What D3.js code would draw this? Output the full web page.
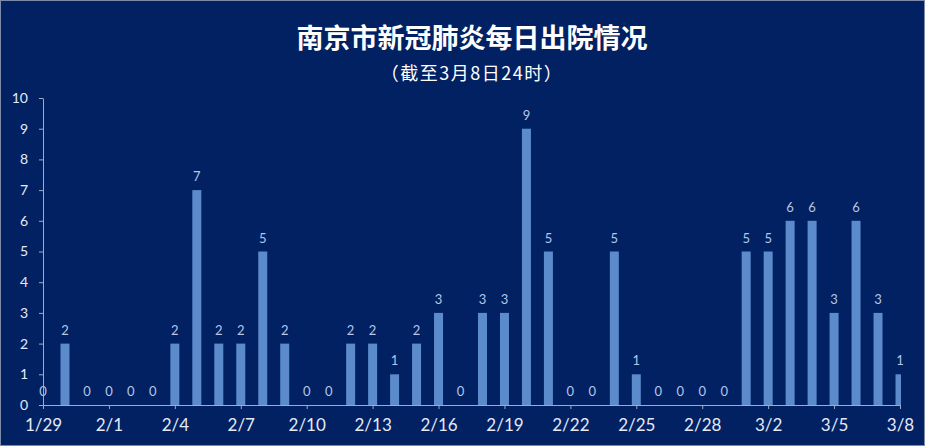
<!DOCTYPE html>
<html>
<head>
<meta charset="utf-8">
<script src="https://cdn.jsdelivr.net/npm/d3@7"></script>
<style>
  html, body { margin: 0; padding: 0; background: #022163; }
  svg { display: block; }
</style>
</head>
<body>
<script>
var dates = ["1/29","1/30","1/31","2/1","2/2","2/3","2/4","2/5","2/6","2/7","2/8","2/9","2/10",
             "2/11","2/12","2/13","2/14","2/15","2/16","2/17","2/18","2/19","2/20","2/21","2/22",
             "2/23","2/24","2/25","2/26","2/27","2/28","2/29","3/1","3/2","3/3","3/4","3/5",
             "3/6","3/7","3/8"];
var discharged = [0,2,0,0,0,0,2,7,2,2,5,2,0,
                  0,2,2,1,2,3,0,3,3,9,5,0,
                  0,5,1,0,0,0,0,5,5,6,6,3,
                  6,3,1];
var yTicks = [0,1,2,3,4,5,6,7,8,9,10];
var xTickLabels = ["1/29","2/1","2/4","2/7","2/10","2/13","2/16","2/19","2/22","2/25","2/28","3/2","3/5","3/8"];

var W = 925, H = 446;
var margin = {top: 98, right: 25, bottom: 41, left: 43}
  , width = W - margin.left - margin.right
  , height = H - margin.top - margin.bottom;

var xScale = d3.scalePoint().domain(dates).range([0, width]),
    yScale = d3.scaleLinear().domain([0, 10]).range([height, 0]);

var svg = d3.select("body").append("svg")
    .attr("width", W)
    .attr("height", H);

svg.append("rect")
    .attr("x", 0.5).attr("y", 0.5)
    .attr("width", W - 1).attr("height", H - 1)
    .attr("fill", "#022163")
    .attr("stroke", "#7d8aa8")
    .attr("stroke-width", 1);

svg.append("text")
    .attr("x", 472)
    .attr("y", 48)
    .attr("text-anchor", "middle")
    .attr("font-family", "Noto Sans CJK SC")
    .attr("font-weight", "bold")
    .attr("font-size", "27px")
    .attr("fill", "#ffffff")
    .text("南京市新冠肺炎每日出院情况");

svg.append("text")
    .attr("x", 472)
    .attr("y", 80)
    .attr("text-anchor", "middle")
    .attr("font-family", "Noto Sans CJK SC")
    .attr("font-size", "18px")
    .attr("letter-spacing", "1.5px")
    .attr("fill", "#ffffff")
    .text("（截至3月8日24时）");

var g = svg.append("g")
    .attr("transform", "translate(" + margin.left + "," + margin.top + ")");

g.append("clipPath").attr("id", "plotclip")
  .append("rect")
    .attr("x", 0).attr("y", -20)
    .attr("width", width + 1).attr("height", height + 20);

var barW = 9;
g.append("g").attr("clip-path", "url(#plotclip)")
  .selectAll("rect")
  .data(dates)
  .enter().append("rect")
    .attr("x", function(d) { return xScale(d) - barW / 2; })
    .attr("y", function(d, i) { return yScale(discharged[i]); })
    .attr("width", barW)
    .attr("height", function(d, i) { return height - yScale(discharged[i]); })
    .attr("fill", "#5b8bcb");

g.selectAll(".vlabel")
  .data(dates)
  .enter().append("text")
    .attr("class", "vlabel")
    .attr("x", function(d) { return xScale(d); })
    .attr("y", function(d, i) { return yScale(discharged[i]) - 9; })
    .attr("text-anchor", "middle")
    .attr("font-family", "Lato")
    .attr("font-size", "13px")
    .attr("fill", "#b3c7e8")
    .text(function(d, i) { return discharged[i]; });

var yAxis = g.append("g")
    .call(d3.axisLeft(yScale).tickValues(yTicks).tickSize(4).tickSizeOuter(0).tickPadding(11));

var xAxis = g.append("g")
    .attr("transform", "translate(0," + height + ")")
    .call(d3.axisBottom(xScale).tickValues(xTickLabels).tickSize(4).tickSizeOuter(0).tickPadding(10));

[yAxis, xAxis].forEach(function(ax) {
    ax.select(".domain").attr("stroke", "#a3abbd");
    ax.selectAll(".tick line").attr("stroke", "#a3abbd");
    ax.selectAll(".tick text")
        .attr("fill", "#e3eaf5")
        .attr("font-family", "Lato");
});
yAxis.selectAll(".tick text").attr("font-size", "14px");
xAxis.selectAll(".tick text").attr("font-size", "17px");
</script>
</body>
</html>
